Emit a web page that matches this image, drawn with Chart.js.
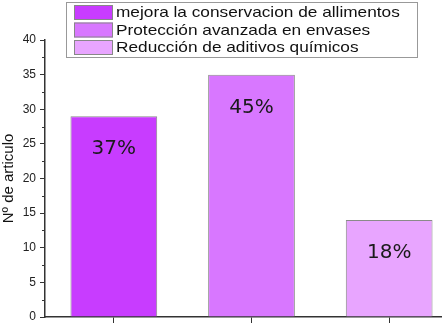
<!DOCTYPE html>
<html>
<head>
<meta charset="utf-8">
<script src="https://cdn.jsdelivr.net/npm/chart.js@4"></script>
<style>
  html, body { margin: 0; padding: 0; background: #fff; overflow: hidden; }
  #wrap { width: 458px; height: 325px; position: relative; }
</style>
</head>
<body>
<div id="wrap"><canvas id="barChart"></canvas></div>
<script>
const categories = ['mejora la conservacion de allimentos', 'Protección avanzada en envases', 'Reducción de aditivos químicos'];
const articles = [29, 35, 14];
const shares = ['37%', '45%', '18%'];
const barColors = ['#c83cff', '#d877ff', '#e8a5ff'];

// little ticks between the numbered ones on the y axis
const minorTicks = {
  id: 'minorTicks',
  afterDraw(chart) {
    const y = chart.scales.y, ctx = chart.ctx;
    const left = chart.chartArea.left;
    ctx.save();
    ctx.strokeStyle = '#333';
    ctx.lineWidth = 1;
    for (let i = 0; i < y.ticks.length - 1; i++) {
      const v = (y.ticks[i].value + y.ticks[i + 1].value) / 2;
      const py = Math.round(y.getPixelForValue(v)) + 0.5;
      ctx.beginPath();
      ctx.moveTo(left - 3, py);
      ctx.lineTo(left, py);
      ctx.stroke();
    }
    ctx.restore();
  }
};

const shareLabels = {
  id: 'shareLabels',
  afterDatasetsDraw(chart) {
    const ctx = chart.ctx;
    const bars = chart.getDatasetMeta(0).data;
    ctx.save();
    ctx.font = '20px "DejaVu Sans"';
    ctx.fillStyle = '#1a1a1a';
    ctx.textAlign = 'center';
    ctx.textBaseline = 'middle';
    bars.forEach((b, i) => ctx.fillText(shares[i], b.x, b.y + 33));
    ctx.restore();
  }
};

const boxLegend = {
  id: 'boxLegend',
  afterDraw(chart) {
    const ctx = chart.ctx;
    ctx.save();
    ctx.fillStyle = '#fff';
    ctx.fillRect(66, 2, 351, 55);
    ctx.strokeStyle = '#999';
    ctx.lineWidth = 1;
    ctx.strokeRect(66.5, 2.5, 351, 55);
    ctx.font = '15px "Liberation Sans"';
    ctx.textBaseline = 'middle';
    categories.forEach((c, i) => {
      const top = 5 + i * 17.5;
      ctx.fillStyle = barColors[i];
      ctx.fillRect(74, top, 39, 15);
      ctx.strokeStyle = '#888';
      ctx.strokeRect(74.5, top + 0.5, 38, 14);
      ctx.fillStyle = '#111';
      // the source picture is a little stretched sideways
      ctx.save();
      ctx.translate(116, top + 8);
      ctx.scale(1.15, 1);
      ctx.fillText(c, 0, 0);
      ctx.restore();
    });
    ctx.restore();
  }
};

new Chart(document.getElementById('barChart'), {
  type: 'bar',
  data: {
    labels: categories,
    datasets: [{
      data: articles,
      backgroundColor: barColors,
      borderColor: '#8a8a8a',
      borderWidth: 1,
      barPercentage: 0.63,
      categoryPercentage: 1
    }]
  },
  options: {
    responsive: true,
    maintainAspectRatio: false,
    animation: false,
    layout: { padding: { top: 40, right: 0, bottom: 0, left: 0 } },
    plugins: {
      legend: { display: false },
      tooltip: { enabled: false }
    },
    scales: {
      x: {
        offset: true,
        ticks: { display: false },
        grid: { offset: false, drawOnChartArea: false, tickLength: 6, color: '#333' },
        border: { color: '#333', width: 1.5 },
        afterFit(s) { s.height = 8; }
      },
      y: {
        min: 0,
        max: 40,
        ticks: {
          stepSize: 5,
          color: '#222',
          padding: 4,
          font: { family: 'Liberation Sans', size: 12 }
        },
        grid: { drawOnChartArea: false, tickLength: 5, color: '#333' },
        border: { color: '#333', width: 1.5 },
        title: {
          display: true,
          text: 'Nº de articulo',
          color: '#111',
          padding: 0,
          font: { family: 'Liberation Sans', size: 15 }
        },
        afterFit(s) { s.width = 45; s.paddingBottom = 0; }
      }
    }
  },
  plugins: [minorTicks, shareLabels, boxLegend]
});
</script>
</body>
</html>
